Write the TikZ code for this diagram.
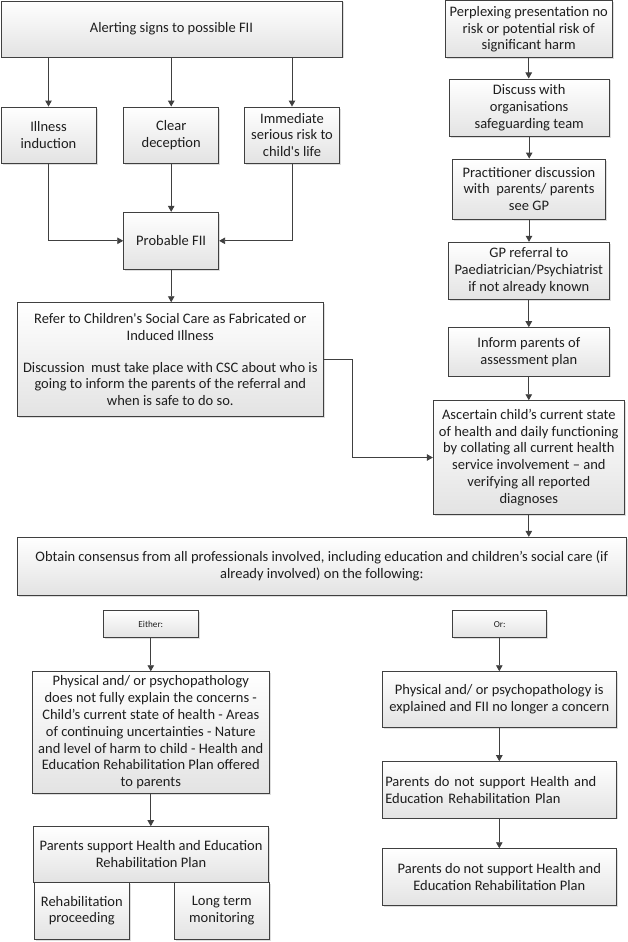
\documentclass[tikz,border=0pt]{standalone}
\usepackage{fontspec}
\setmainfont{Carlito}
\usetikzlibrary{arrows.meta,shadows}
\definecolor{ln}{HTML}{404040}
\definecolor{tx}{HTML}{1E1E1E}
\tikzset{
  box/.style={draw=ln, line width=0.9pt, top color=white, bottom color=black!11,
    text=tx, align=center, inner sep=2pt, font=\fontsize{14.5}{16.8}\selectfont,
    drop shadow={shadow xshift=1.5pt, shadow yshift=-1.5pt, fill=black!25, opacity=0.5}},
  small/.style={font=\fontsize{9.2}{11}\selectfont},
  arr/.style={draw=ln, line width=0.9pt, -{Triangle[length=6pt,width=6.5pt]}},
}
\begin{document}
\begin{tikzpicture}[x=1pt,y=-1pt]
\useasboundingbox (0,0) rectangle (627,942);
\fill[white] (0,0) rectangle (627,942);

% left top
\node[box, minimum width=341pt, minimum height=56pt] (alert) at (171.5,29) {Alerting signs to possible FII};
\node[box, minimum width=95pt, minimum height=56pt] (illness) at (48.5,135) {Illness\\induction};
\node[box, minimum width=95pt, minimum height=56pt] (clear) at (171.2,135) {Clear\\deception};
\node[box, minimum width=94.6pt, minimum height=56pt] (immed) at (292,135) {Immediate\\serious risk to\\child\textquotesingle s life};
\node[box, minimum width=95pt, minimum height=57pt] (probable) at (171.2,240.8) {Probable FII};
\node[box, minimum width=306pt, minimum height=114pt] (refer) at (170.3,359.7)
  {Refer to Children\textquotesingle s Social Care as Fabricated or\\Induced Illness\\[15pt]Discussion\ \ must take place with CSC about who is\\going to inform the parents of the referral and\\when is safe to do so.};

% right top
\node[box, minimum width=167.3pt, minimum height=56.7pt] (perplex) at (528.7,29.3) {Perplexing presentation no\\risk or potential risk of\\significant harm};
\node[box, minimum width=160.3pt, minimum height=57.7pt] (discuss) at (529.2,107.8) {Discuss with\\organisations\\safeguarding team};
\node[box, minimum width=153.4pt, minimum height=60pt] (pract) at (529,189) {Practitioner discussion\\with\ \ parents/ parents\\see GP};
\node[box, minimum width=161pt, minimum height=57pt] (gp) at (528.8,270.8) {GP referral to\\Paediatrician/Psychiatrist\\if not already known};
\node[box, minimum width=161pt, minimum height=48.3pt] (inform) at (528.8,351.8) {Inform parents of\\assessment plan};
\node[box, minimum width=191pt, minimum height=113.6pt] (ascert) at (528.8,457.5)
  {Ascertain child’s current state\\of health and daily functioning\\by collating all current health\\service involvement – and\\verifying all reported\\diagnoses};

% consensus
\node[box, minimum width=608.4pt, minimum height=58pt] (obtain) at (321.8,566.3)
  {Obtain consensus from all professionals involved, including education and children’s social care (if\\already involved) on the following:};
\node[box, small, minimum width=95pt, minimum height=27pt] (either) at (150.8,624.2) {Either:};
\node[box, small, minimum width=94pt, minimum height=27pt] (or) at (499.7,624.2) {Or:};

% left bottom
\node[box, minimum width=237pt, minimum height=121.6pt] (phys1) at (150.8,732.5)
  {Physical and/ or psychopathology\\does not fully explain the concerns -\\Child’s current state of health - Areas\\of continuing uncertainties - Nature\\and level of harm to child - Health and\\Education Rehabilitation Plan offered\\to parents};
\node[box, minimum width=235.4pt, minimum height=55.3pt] (support) at (151,854.3) {Parents support Health and Education\\Rehabilitation Plan};
\node[box, minimum width=95pt, minimum height=57.3pt] (rehab) at (81.8,910.7) {Rehabilitation\\proceeding};
\node[box, minimum width=95pt, minimum height=57.3pt] (longterm) at (221.8,910.7) {Long term\\monitoring};

% right bottom
\node[box, minimum width=234pt, minimum height=55.6pt] (phys2) at (499.3,699.5) {Physical and/ or psychopathology is\\explained and FII no longer a concern};
\node[box, minimum width=234pt, minimum height=56.3pt, align=left, text width=228pt, inner sep=3pt] (notsup1) at (499.3,789.8) {Parents do not support Health and\\Education Rehabilitation Plan};
\node[box, minimum width=234pt, minimum height=56.6pt] (notsup2) at (499.3,877) {Parents do not support Health and\\Education Rehabilitation Plan};

% connectors
\coordinate (jog) at (352.3,0);
\draw[arr] (illness.north |- alert.south) -- (illness.north);
\draw[arr] (clear.north |- alert.south) -- (clear.north);
\draw[arr] (immed.north |- alert.south) -- (immed.north);
\draw[arr] (illness.south) |- (probable.west);
\draw[arr] (immed.south) |- (probable.east);
\draw[arr] (clear.south) -- (probable.north);
\draw[arr] (probable.south) -- (probable.south |- refer.north);
\draw[arr] (refer.east) -- (refer.east -| jog) |- (ascert.west);

\draw[arr] (perplex.south) -- (perplex.south |- discuss.north);
\draw[arr] (discuss.south) -- (discuss.south |- pract.north);
\draw[arr] (pract.south) -- (pract.south |- gp.north);
\draw[arr] (gp.south) -- (inform.north);
\draw[arr] (inform.south) -- (inform.south |- ascert.north);
\draw[arr] (ascert.south) -- (ascert.south |- obtain.north);

\draw[arr] (either.south) -- (either.south |- phys1.north);
\draw[arr] (or.south -| phys2.north) -- (phys2.north);
\draw[arr] (phys1.south) -- (phys1.south |- support.north);
\draw[arr] (phys2.south) -- (notsup1.north);
\draw[arr] (notsup1.south) -- (notsup2.north);
\end{tikzpicture}
\end{document}
